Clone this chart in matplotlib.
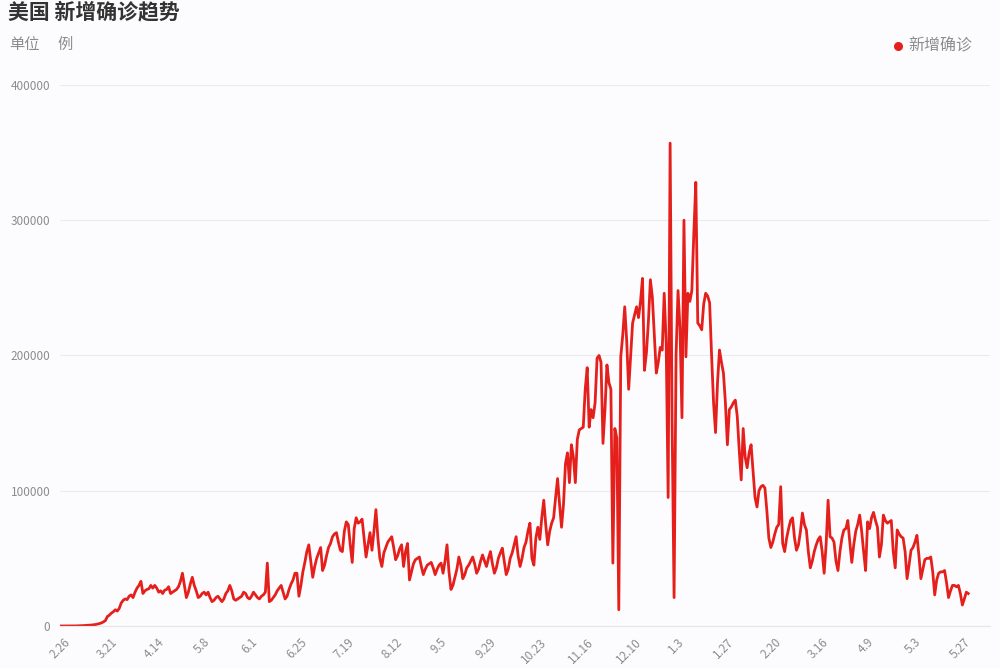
import matplotlib.pyplot as plt
import numpy as np

plt.rcParams['font.family'] = ['Noto Sans CJK SC', 'DejaVu Sans']

# daily new cases, starting 2.26 (one value per day)
cases = [
    # 2.26 - 3.20
    0, 0, 0, 0, 0, 10, 20, 30, 60, 100, 150, 200, 300, 400, 500, 600,
    700, 900, 1100, 1400, 1800, 2300, 3000, 4000,
    # 3.21 - 4.13
    7000, 8000, 9500, 10500, 12000, 11000, 13000, 17000, 19000, 20000,
    19500, 22000, 23000, 21000, 25000, 28000, 30000, 33000, 24000, 26000,
    27000, 27500, 30000, 28000,
    # 4.14 - 5.7
    30000, 28000, 25000, 26000, 24000, 26500, 27000, 29000, 24000, 25000,
    26000, 27000, 29000, 33000, 39000, 30000, 21000, 25000, 31000, 36000,
    30000, 26000, 21000, 22000,
    # 5.8 - 5.31
    24000, 25000, 23000, 25000, 21000, 18000, 19000, 21000, 22000, 20000,
    18000, 20000, 24000, 26000, 30000, 26000, 20000, 19000, 20000, 21000,
    22000, 25000, 24000, 21000,
    # 6.1 - 6.24
    20000, 22000, 25000, 23000, 21000, 20000, 22000, 23000, 25000, 46500,
    18000, 19000, 21000, 23000, 26000, 28000, 30000, 25000, 20000, 22000,
    27000, 31000, 34000, 39000,
    # 6.25 - 7.18
    39000, 22000, 30000, 40000, 47000, 55000, 60000, 48000, 36000, 44000,
    50000, 54000, 58000, 41000, 45000, 52000, 58000, 61000, 66000, 68000,
    69000, 62000, 56000, 55000,
    # 7.19 - 8.11
    70000, 77000, 75000, 60000, 47000, 72000, 80000, 76000, 77000, 79000,
    65000, 51000, 60000, 69000, 56000, 70000, 86000, 65000, 50000, 44000,
    54000, 58000, 62000, 64000,
    # 8.12 - 9.4
    66000, 58000, 49000, 52000, 57000, 60000, 44000, 55000, 61000, 34000,
    40000, 46000, 49000, 50000, 51000, 44000, 38000, 42000, 45000, 46000,
    47000, 43000, 38000, 42000,
    # 9.5 - 9.28
    45000, 46500, 39000, 48000, 60000, 40000, 27000, 30000, 36000, 42000,
    51000, 45000, 35000, 38000, 43000, 45000, 48000, 51000, 46000, 39000,
    42000, 48000, 52500, 48000,
    # 9.29 - 10.22
    44000, 50000, 55000, 46000, 39000, 43000, 50000, 54000, 57500, 48000,
    38000, 42000, 50000, 54000, 60000, 66000, 52000, 44000, 50000, 58000,
    62000, 70000, 76000, 50000,
    # 10.23 - 11.15
    45000, 65000, 73000, 64000, 80000, 93000, 75000, 60000, 70000, 76000,
    80000, 95000, 109000, 90000, 73000, 90000, 120000, 128000, 106000,
    134000, 125000, 106000, 138000, 145000,
    # 11.16 - 12.9
    146000, 147000, 175000, 191000, 147000, 160000, 154000, 165000, 198000,
    200000, 195000, 135000, 160000, 193000, 180000, 175000, 46500, 146000,
    139000, 12000, 199000, 215000, 236000, 211000,
    # 12.10 - 1.2
    175000, 200000, 224000, 230000, 236000, 228000, 240000, 257000, 189000,
    202000, 225000, 256000, 243000, 215000, 187000, 195000, 206000, 204000,
    246000, 209000, 95000, 357000, 150000, 21000,
    # 1.3 - 1.26
    200000, 248000, 220000, 154000, 300000, 199000, 246000, 240000, 248000,
    290000, 328000, 224000, 222000, 219000, 238000, 246000, 244000, 239000,
    200000, 165000, 143000, 180000, 204000, 195000,
    # 1.27 - 2.19
    187000, 165000, 134000, 160000, 162000, 165000, 167000, 155000, 130000,
    108000, 146000, 125000, 117000, 128000, 134000, 115000, 95000, 88000,
    100000, 103000, 104000, 102000, 85000, 65000,
    # 2.20 - 3.15
    58000, 62000, 68000, 73000, 75000, 103000, 61000, 55000, 65000, 72000,
    78000, 80000, 65000, 56000, 60000, 70000, 83500, 75000, 71000, 55000,
    43000, 48000, 55000, 60000,
    # 3.16 - 4.8
    64000, 66000, 55000, 39000, 60000, 93000, 66000, 65000, 62000, 48000,
    41000, 55000, 65000, 71000, 72000, 78000, 62000, 47000, 60000, 70000,
    75000, 82000, 70000, 55000,
    # 4.9 - 5.2
    41000, 77000, 72000, 80000, 84000, 78000, 73000, 51000, 60000, 82000,
    78000, 76000, 77000, 78000, 55000, 43000, 71000, 68000, 66000, 65000,
    55000, 35000, 45000, 56000,
    # 5.3 - 5.26
    58000, 62000, 67000, 52000, 35000, 42000, 49000, 50000, 50000, 51000,
    40000, 23000, 34000, 39000, 40000, 40000, 41000, 32000, 21000, 26000,
    30000, 30000, 29000, 30000,
    # 5.27 -
    24000, 15500, 20000, 25000, 24000,
]

tick_labels = ['2.26', '3.21', '4.14', '5.8', '6.1', '6.25', '7.19', '8.12',
               '9.5', '9.29', '10.23', '11.16', '12.10', '1.3', '1.27',
               '2.20', '3.16', '4.9', '5.3', '5.27']
tick_step = 24
y_ticks = [0, 100000, 200000, 300000, 400000]

bg = '#fcfcfe'
line_color = '#e5201c'
grey = '#8c8c8c'

fig = plt.figure(figsize=(10, 6.68), dpi=100, facecolor=bg)
ax = fig.add_axes([0.06, 0.0629, 0.93, 0.8099], facecolor=bg)

days = np.arange(len(cases))
ax.plot(days, cases, color=line_color, lw=2.0, solid_joinstyle='round')

ax.set_xlim(0, 471)
ax.set_ylim(0, 400000)

ax.set_xticks(np.arange(len(tick_labels)) * tick_step)
ax.set_xticklabels(tick_labels, rotation=45, ha='center', fontsize=8.5,
                   color=grey)
ax.set_yticks(y_ticks)
ax.set_yticklabels([str(v) for v in y_ticks], fontsize=8.5, color=grey)
ax.tick_params(axis='both', length=0, pad=7)

ax.grid(axis='y', color='#ebebef', lw=0.8)
ax.set_axisbelow(True)
for s in ['top', 'right', 'left']:
    ax.spines[s].set_visible(False)
ax.spines['bottom'].set_color('#e6e6ea')
ax.spines['bottom'].set_linewidth(0.8)

# title / subtitle
fig.text(0.008, 0.982, '美国 新增确诊趋势', fontsize=15, fontweight='bold',
         color='#333333', va='center', ha='left')
fig.text(0.009, 0.933, '单位', fontsize=11, color=grey, va='center',
         ha='left')
fig.text(0.057, 0.933, '例', fontsize=11, color=grey, va='center',
         ha='left')

# legend
fig.lines.append(plt.Line2D([0.898], [0.931], transform=fig.transFigure,
                            marker='o', markersize=5.5, color=line_color,
                            lw=0))
fig.text(0.908, 0.931, '新增确诊', fontsize=11.5, color=grey, va='center',
         ha='left')

fig.savefig('out.png', dpi=100, facecolor=bg)
